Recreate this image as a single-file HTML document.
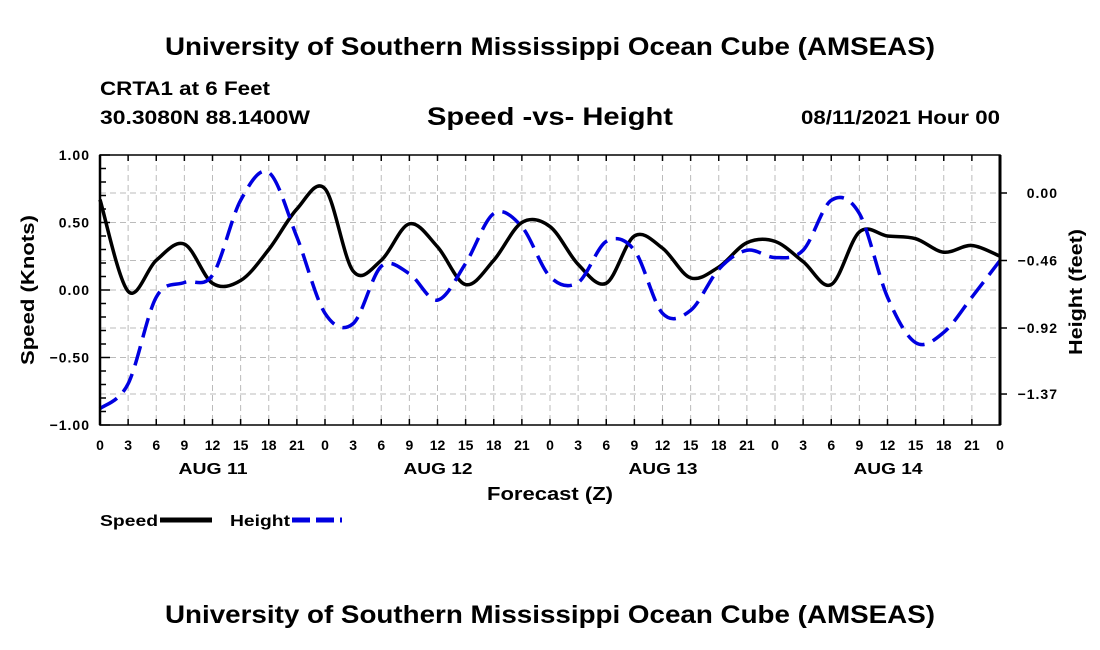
<!DOCTYPE html>
<html><head><meta charset="utf-8"><style>
body{margin:0;background:#fff;}
svg{display:block;font-family:"Liberation Sans",sans-serif;font-weight:bold;}
</style></head><body>
<svg id="chart" width="1100" height="650" viewBox="0 0 1100 650">
<text x="165" y="55" font-size="25" textLength="770" lengthAdjust="spacingAndGlyphs">University of Southern Mississippi Ocean Cube (AMSEAS)</text>
<text x="100" y="95" font-size="19" textLength="170" lengthAdjust="spacingAndGlyphs">CRTA1 at 6 Feet</text>
<text x="100" y="124" font-size="19" textLength="210" lengthAdjust="spacingAndGlyphs">30.3080N  88.1400W</text>
<text x="427" y="125" font-size="25" textLength="246" lengthAdjust="spacingAndGlyphs">Speed -vs- Height</text>
<text x="801" y="124" font-size="19" textLength="199" lengthAdjust="spacingAndGlyphs">08/11/2021 Hour 00</text>
<g id="grid"></g>
<g id="series"></g>
<g id="axes"></g>
<text x="487" y="500" font-size="18" textLength="126" lengthAdjust="spacingAndGlyphs">Forecast (Z)</text>
<text transform="translate(34,290) rotate(-90)" text-anchor="middle" font-size="18" textLength="150" lengthAdjust="spacingAndGlyphs">Speed (Knots)</text>
<text transform="translate(1082,292) rotate(-90)" text-anchor="middle" font-size="18" textLength="126" lengthAdjust="spacingAndGlyphs">Height (feet)</text>
<g>
<text x="100" y="526" font-size="16" textLength="58" lengthAdjust="spacingAndGlyphs">Speed</text>
<line x1="160" y1="520" x2="212" y2="520" stroke="#000" stroke-width="5"/>
<text x="230" y="526" font-size="16" textLength="60" lengthAdjust="spacingAndGlyphs">Height</text>
<line x1="292" y1="520" x2="342" y2="520" stroke="#0000e0" stroke-width="5" stroke-dasharray="18,6"/>
</g>
<text x="165" y="623" font-size="25" textLength="770" lengthAdjust="spacingAndGlyphs">University of Southern Mississippi Ocean Cube (AMSEAS)</text>
</svg>
<script>
const hours=[0,3,6,9,12,15,18,21,24,27,30,33,36,39,42,45,48,51,54,57,60,63,66,69,72,75,78,81,84,87,90,93,96];
const speed=[0.67,-0.01,0.22,0.34,0.05,0.07,0.3,0.6,0.75,0.14,0.22,0.49,0.32,0.04,0.22,0.5,0.47,0.19,0.05,0.4,0.31,0.09,0.17,0.35,0.36,0.21,0.04,0.43,0.40,0.38,0.28,0.33,0.25];
const height=[-1.47,-1.30,-0.71,-0.61,-0.56,-0.05,0.14,-0.30,-0.82,-0.89,-0.50,-0.55,-0.73,-0.48,-0.14,-0.23,-0.57,-0.61,-0.33,-0.39,-0.82,-0.80,-0.52,-0.39,-0.44,-0.39,-0.05,-0.14,-0.71,-1.02,-0.95,-0.71,-0.46];
const xTickLabels=["0","3","6","9","12","15","18","21","0","3","6","9","12","15","18","21","0","3","6","9","12","15","18","21","0","3","6","9","12","15","18","21","0"];
const dayLabels=["AUG 11","AUG 12","AUG 13","AUG 14"];
const leftTicks=[1.00,0.50,0.00,-0.50,-1.00];
const rightTicks=[0.00,-0.46,-0.92,-1.37];

const NS="http://www.w3.org/2000/svg";
const X0=100,X1=1000,Y0=155,Y1=425;
const xs=h=>X0+(h/96)*(X1-X0);
const ys=v=>290-v*135;
const yh=v=>193-v*(67.5/0.46);
const fmt=v=>(v<0?'\u2212':'')+Math.abs(v).toFixed(2);
function mk(tag,attrs,parent){const e=document.createElementNS(NS,tag);for(const k in attrs)e.setAttribute(k,attrs[k]);parent.appendChild(e);return e;}
const grid=document.getElementById('grid'),axes=document.getElementById('axes'),series=document.getElementById('series');

hours.forEach((h,i)=>{
  const l=mk('line',{x1:xs(h),x2:xs(h),y1:Y0,y2:Y1,stroke:'#bbb','stroke-width':1,'stroke-dasharray':'6,4'},grid);
  
  
  const t=mk('line',{x1:xs(h),x2:xs(h),y1:Y1,y2:Y1-6,stroke:'#000','stroke-width':1.5},axes);
  
  
  const t2=mk('line',{x1:xs(h),x2:xs(h),y1:Y0,y2:Y0+6,stroke:'#000','stroke-width':1.5},axes);
  
  
  const tx=mk('text',{x:xs(h),y:450,'text-anchor':'middle','font-size':14},axes);
  tx.textContent=xTickLabels[i];
  
  
});
dayLabels.forEach((d,i)=>{
  const tx=mk('text',{x:xs(12+24*i)-34,y:474,'font-size':16,textLength:69,lengthAdjust:'spacingAndGlyphs'},axes);
  tx.textContent=d;
  
  
});
leftTicks.forEach(v=>{
  if(v<1&&v>-1){const l=mk('line',{x1:X0,x2:X1,y1:ys(v),y2:ys(v),stroke:'#bbb','stroke-width':1,'stroke-dasharray':'6,4'},grid);
  
  }
  const tx=mk('text',{x:90,y:ys(v)+5,'text-anchor':'end','font-size':14,'letter-spacing':'1'},axes);
  tx.textContent=fmt(v);
  
  
});
for(let v=-1;v<=1.001;v+=0.1){
  const big=Math.abs(v*2-Math.round(v*2))<0.01;
  const t=mk('line',{x1:X0,x2:X0+(big?10:6),y1:ys(v),y2:ys(v),stroke:'#000','stroke-width':1.5},axes);
  
  
}
rightTicks.forEach(v=>{
  const l=mk('line',{x1:X0,x2:X1,y1:yh(v),y2:yh(v),stroke:'#bbb','stroke-width':1,'stroke-dasharray':'6,4'},grid);
  
  
  const t=mk('line',{x1:X1,x2:X1+7,y1:yh(v),y2:yh(v),stroke:'#000','stroke-width':1.5},axes);
  
  
  const tx=mk('text',{x:1058,y:yh(v)+5,'text-anchor':'end','font-size':14,'letter-spacing':'1'},axes);
  tx.textContent=fmt(v);
  
  
});
const fr=mk('rect',{x:X0,y:Y0,width:X1-X0,height:Y1-Y0,fill:'none',stroke:'#000','stroke-width':1.5},axes);


const la=mk('line',{x1:X0,x2:X0,y1:Y0,y2:Y1,stroke:'#000','stroke-width':2.5},axes);


const ra=mk('line',{x1:X1,x2:X1,y1:Y0,y2:Y1,stroke:'#000','stroke-width':3},axes);



function smooth(vals,yf){
  const p=hours.map((h,i)=>[xs(h),yf(vals[i])]);
  let d='M'+p[0][0]+','+p[0][1];
  for(let i=0;i<p.length-1;i++){
    const a=p[Math.max(i-1,0)],b=p[i],c=p[i+1],e=p[Math.min(i+2,p.length-1)];
    const c1=[b[0]+(c[0]-a[0])/6,b[1]+(c[1]-a[1])/6],c2=[c[0]-(e[0]-b[0])/6,c[1]-(e[1]-b[1])/6];
    d+=' C'+c1+' '+c2+' '+c;
  }
  return d;
}
const sp=mk('path',{d:smooth(speed,ys),fill:'none',stroke:'#000','stroke-width':3.5,'stroke-linejoin':'round'},series);


const hp=mk('path',{d:smooth(height,yh),fill:'none',stroke:'#0000e0','stroke-width':3.5,'stroke-dasharray':'20,9'},series);


</script>
</body></html>
